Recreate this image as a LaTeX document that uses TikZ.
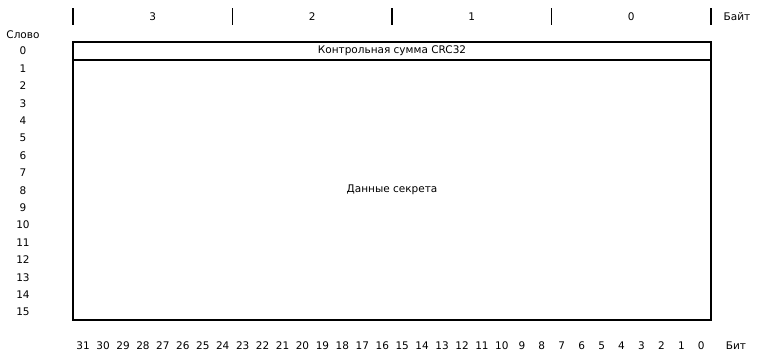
\documentclass[tikz,border=0pt]{standalone}
\usepackage{fontspec}
\setmainfont{DejaVu Sans}
\usetikzlibrary{positioning}

\begin{document}
\begin{tikzpicture}[
    x=1pt, y=-1pt,
    font=\fontsize{10.5}{12}\selectfont,
    field/.style={
        draw=black,
        line width=1.6pt,
        minimum width=638pt,
        inner sep=0pt,
        outer sep=0pt,
        anchor=north west
    },
    tick/.style={line width=1.2pt, color=black}
]
\useasboundingbox (0,0) rectangle (761,359);

% Word 0 and words 1..15
\node[field, minimum height=18pt] (crc) at (73,42) {Контрольная сумма CRC32};
\node[field, minimum height=260pt, below=0pt of crc] (data) {Данные секрета};

% Byte scale
\foreach \i in {0,...,4}
    \draw[tick] (73+159.5*\i, 8) -- ++(0,17);
\foreach \b [count=\i from 0] in {3,2,1,0}
    \node (byte\b) at (152.75+159.5*\i, 17) {\b};
\node (bytelbl) at (737,17) {Байт};

% Word numbers
\node (wordlbl) at (23,35) {Слово};
\foreach \w in {0,...,15}
    \node (word\w) at (23, 51+17.4*\w) {\w};

% Bit numbers
\foreach \k in {0,...,31}
    \node (bit\k) at (701.3-19.94*\k, 346) {\k};
\node (bitlbl) at (736,346) {Бит};

\end{tikzpicture}
\end{document}
